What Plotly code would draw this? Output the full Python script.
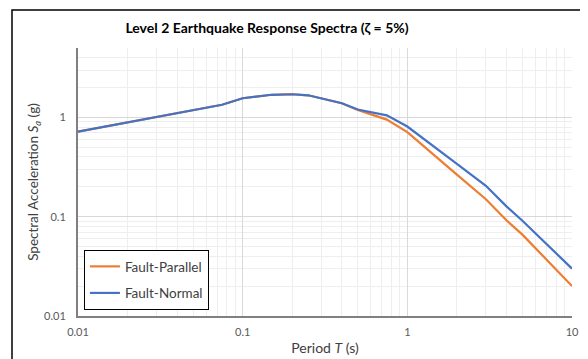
import plotly.graph_objects as go

periods = [0.01, 0.075, 0.1, 0.15, 0.2, 0.25, 0.4, 0.5, 0.75, 1, 2, 3, 4, 5, 10]
fault_parallel = [0.72, 1.34, 1.56, 1.69, 1.71, 1.67, 1.39, 1.19, 0.95, 0.71, 0.265, 0.15, 0.092, 0.066, 0.020]
fault_normal = [0.72, 1.34, 1.56, 1.69, 1.71, 1.67, 1.39, 1.20, 1.05, 0.81, 0.34, 0.205, 0.127, 0.091, 0.030]

x_ticks = [0.01, 0.1, 1, 10]
x_ticktext = ["0.01", "0.1", "1", "10"]
y_ticks = [0.01, 0.1, 1]
y_ticktext = ["0.01", "0.1", "1"]

FONT = "Lato"

fig = go.Figure()
fig.add_trace(go.Scatter(x=periods, y=fault_parallel, mode="lines", name="Fault-Parallel",
                         legendgroup="p", line=dict(color="#ED7D31", width=2.2)))
fig.add_trace(go.Scatter(x=periods, y=fault_normal, mode="lines", name="Fault-Normal",
                         legendgroup="n", line=dict(color="#4472C4", width=2.2)))

# page body has an 8px margin, so the figure is 580x351 placed at (8,8)
fig.update_layout(
    width=580, height=351,
    margin=dict(l=70, r=16, t=40, b=43),
    paper_bgcolor="white", plot_bgcolor="white",
    font=dict(family=FONT, color="#595959", size=11),
    title=dict(text="<b>Level 2 Earthquake Response Spectra (ζ = 5%)</b>",
               x=259/580, xanchor="center", y=1-20/351, yanchor="middle",
               font=dict(family=FONT, size=14, color="#000000")),
    xaxis=dict(type="log", range=[-2, 1], tickvals=x_ticks, ticktext=x_ticktext,
               automargin=False,
               showgrid=True, gridcolor="#D9D9D9", gridwidth=1,
               minor=dict(showgrid=True, gridcolor="#EEEEEE", gridwidth=1, dtick="D1"),
               showline=True, linecolor="#808080", linewidth=2,
               ticks="", ticklabelstandoff=5,
               title=dict(text="Period <i>T</i> (s)", font=dict(family=FONT, size=14, color="#404040"), standoff=6),
               zeroline=False),
    yaxis=dict(type="log", range=[-2, 0.699], tickvals=y_ticks, ticktext=y_ticktext,
               automargin=False,
               showgrid=True, gridcolor="#D9D9D9", gridwidth=1,
               minor=dict(showgrid=True, gridcolor="#EEEEEE", gridwidth=1, dtick="D1"),
               showline=True, linecolor="#808080", linewidth=2,
               ticks="", ticklabelstandoff=8,
               title=dict(text="Spectral Acceleration <i>S</i><sub><i>a</i></sub> (g)",
                          font=dict(family=FONT, size=13.5, color="#404040"), standoff=2),
               zeroline=False),
    legend=dict(x=0.012, y=0.022, xanchor="left", yanchor="bottom",
                bgcolor="white", bordercolor="#000000", borderwidth=1,
                font=dict(family=FONT, size=13.5, color="#404040"),
                itemwidth=30, traceorder="grouped", tracegroupgap=6),
    showlegend=True,
)

# outer chart border (partially clipped on right/bottom)
fig.add_shape(type="rect", xref="paper", yref="paper",
              x0=(12-78)/494, x1=(600-78)/494, y0=(316-370)/268, y1=(316-10)/268,
              line=dict(color="#000000", width=1.5), fillcolor="rgba(0,0,0,0)", layer="below")

fig.write_html("out.html")
